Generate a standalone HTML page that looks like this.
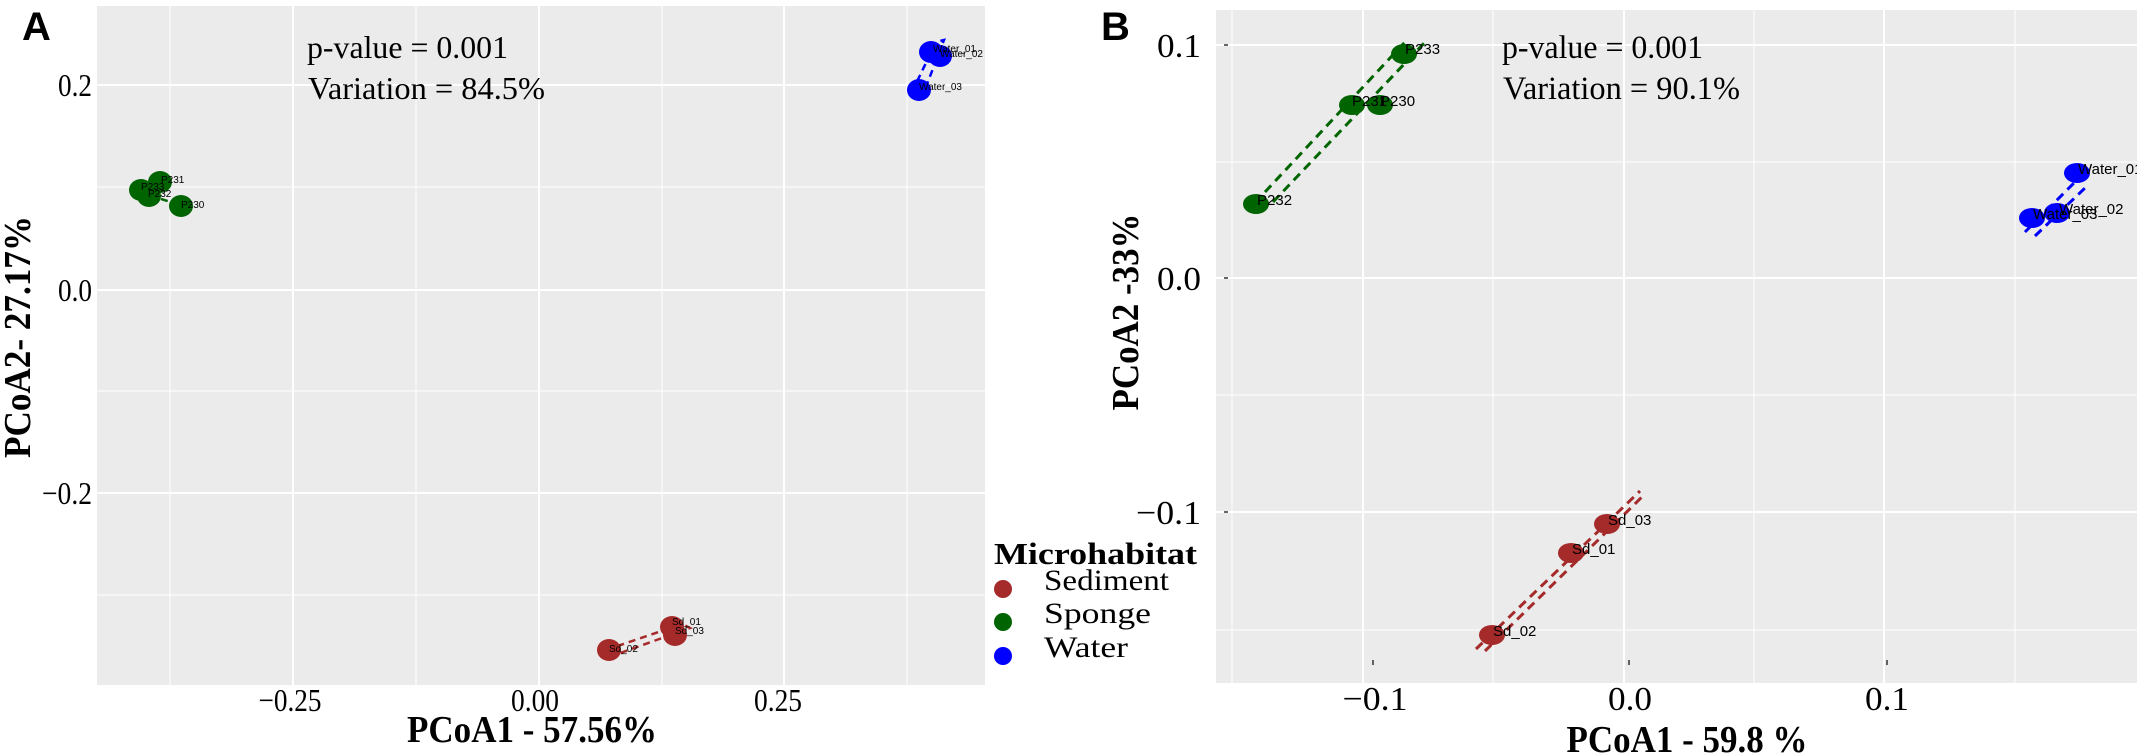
<!DOCTYPE html>
<html><head><meta charset="utf-8"><style>
html,body{margin:0;padding:0;background:#fff;}
svg{display:block;}
text{font-family:"Liberation Serif",serif;}
.s, .s text{font-family:"Liberation Sans",sans-serif;}
</style></head><body>
<svg width="2137" height="754" viewBox="0 0 2137 754" xmlns="http://www.w3.org/2000/svg">
<!-- Panel A -->
<rect x="97" y="6" width="888" height="679" fill="#EBEBEB"/>
<g stroke="#fff" stroke-width="1">
<line x1="170" y1="6" x2="170" y2="685"/><line x1="416" y1="6" x2="416" y2="685"/><line x1="662" y1="6" x2="662" y2="685"/><line x1="907" y1="6" x2="907" y2="685"/>
<line x1="97" y1="187" x2="985" y2="187"/><line x1="97" y1="391" x2="985" y2="391"/><line x1="97" y1="595" x2="985" y2="595"/>
</g>
<g stroke="#fff" stroke-width="2">
<line x1="293" y1="6" x2="293" y2="685"/><line x1="539" y1="6" x2="539" y2="685"/><line x1="784" y1="6" x2="784" y2="685"/>
<line x1="97" y1="85" x2="985" y2="85"/><line x1="97" y1="290" x2="985" y2="290"/><line x1="97" y1="493" x2="985" y2="493"/>
</g>
<g font-size="32" text-anchor="end">
<text x="92" y="96" textLength="34" lengthAdjust="spacingAndGlyphs">0.2</text>
<text x="92" y="301" textLength="34" lengthAdjust="spacingAndGlyphs">0.0</text>
<text x="92" y="504" textLength="50" lengthAdjust="spacingAndGlyphs">−0.2</text>
</g>
<g font-size="32" text-anchor="middle">
<text x="290" y="711" textLength="63" lengthAdjust="spacingAndGlyphs">−0.25</text>
<text x="535" y="711" textLength="48" lengthAdjust="spacingAndGlyphs">0.00</text>
<text x="778" y="711" textLength="48" lengthAdjust="spacingAndGlyphs">0.25</text>
</g>
<text x="532" y="742" font-size="38" font-weight="bold" text-anchor="middle" textLength="250" lengthAdjust="spacingAndGlyphs">PCoA1 - 57.56%</text>
<text transform="translate(30,337) rotate(-90)" font-size="38" font-weight="bold" text-anchor="middle" textLength="242" lengthAdjust="spacingAndGlyphs">PCoA2- 27.17%</text>
<text class="s" x="22" y="40" font-size="40" font-weight="bold">A</text>
<text x="307" y="58" font-size="32" textLength="201" lengthAdjust="spacingAndGlyphs">p-value = 0.001</text>
<text x="308" y="99" font-size="32" textLength="237" lengthAdjust="spacingAndGlyphs">Variation = 84.5%</text>
<g fill="none" stroke-dasharray="7,5" stroke-width="2.5">
<path d="M912 92 L936 42 L944 40 L924 92" stroke="#0000FF"/>
<path d="M606 650 L682 624 L690 628 L612 656" stroke="#A52A2A"/>
<path d="M138 192 L184 206 M150 200 L164 182" stroke="#006400"/>
</g>
<g fill="#0000FF"><ellipse cx="931" cy="52" rx="12" ry="11"/><ellipse cx="940" cy="56" rx="12" ry="11"/><ellipse cx="919" cy="90" rx="12" ry="11"/></g>
<g fill="#006400"><ellipse cx="141" cy="190" rx="12" ry="11"/><ellipse cx="160" cy="182" rx="12" ry="11"/><ellipse cx="149" cy="196" rx="12" ry="11"/><ellipse cx="181" cy="206" rx="12" ry="11"/></g>
<g fill="#A52A2A"><ellipse cx="672" cy="627" rx="12" ry="11"/><ellipse cx="675" cy="635" rx="12" ry="11"/><ellipse cx="609" cy="650" rx="12" ry="11"/></g>
<g class="s" font-size="10" fill="#000">
<text x="933" y="52">Water_01</text><text x="940" y="57">Water_02</text><text x="919" y="90">Water_03</text>
<text x="161" y="183">P231</text><text x="141" y="190">P233</text><text x="148" y="197">P232</text><text x="181" y="208">P230</text>
<text x="672" y="625">Sd_01</text><text x="675" y="634">Sd_03</text><text x="609" y="652">Sd_02</text>
</g>
<text x="994" y="564" font-size="31" font-weight="bold" textLength="203" lengthAdjust="spacingAndGlyphs">Microhabitat</text>
<circle cx="1003" cy="589" r="9" fill="#A52A2A"/><circle cx="1003" cy="622" r="9" fill="#006400"/><circle cx="1003" cy="656" r="9" fill="#0000FF"/>
<g font-size="30">
<text x="1044" y="590" textLength="125" lengthAdjust="spacingAndGlyphs">Sediment</text>
<text x="1044" y="623" textLength="107" lengthAdjust="spacingAndGlyphs">Sponge</text>
<text x="1044" y="657" textLength="84" lengthAdjust="spacingAndGlyphs">Water</text>
</g>
<!-- Panel B -->
<rect x="1216" y="10" width="921" height="673" fill="#EBEBEB"/>
<g stroke="#fff" stroke-width="1">
<line x1="1232" y1="10" x2="1232" y2="683"/><line x1="1493" y1="10" x2="1493" y2="683"/><line x1="1754" y1="10" x2="1754" y2="683"/><line x1="2015" y1="10" x2="2015" y2="683"/>
<line x1="1216" y1="162" x2="2137" y2="162"/><line x1="1216" y1="395" x2="2137" y2="395"/><line x1="1216" y1="630" x2="2137" y2="630"/>
</g>
<g stroke="#fff" stroke-width="2">
<line x1="1363" y1="10" x2="1363" y2="683"/><line x1="1624" y1="10" x2="1624" y2="683"/><line x1="1884" y1="10" x2="1884" y2="683"/>
<line x1="1216" y1="45" x2="2137" y2="45"/><line x1="1216" y1="278" x2="2137" y2="278"/><line x1="1216" y1="512" x2="2137" y2="512"/>
</g>
<g stroke="#333" stroke-width="1.5"><line x1="1373" y1="660" x2="1373" y2="665"/><line x1="1629" y1="660" x2="1629" y2="665"/><line x1="1887" y1="660" x2="1887" y2="665"/>
<line x1="1224" y1="45" x2="1228" y2="45"/><line x1="1224" y1="278" x2="1228" y2="278"/><line x1="1224" y1="512" x2="1228" y2="512"/></g>
<g font-size="34" text-anchor="end">
<text x="1201" y="57" textLength="44" lengthAdjust="spacingAndGlyphs">0.1</text>
<text x="1201" y="290" textLength="44" lengthAdjust="spacingAndGlyphs">0.0</text>
<text x="1201" y="524" textLength="65" lengthAdjust="spacingAndGlyphs">−0.1</text>
</g>
<g font-size="34" text-anchor="middle">
<text x="1375" y="710" textLength="65" lengthAdjust="spacingAndGlyphs">−0.1</text>
<text x="1630" y="710" textLength="44" lengthAdjust="spacingAndGlyphs">0.0</text>
<text x="1887" y="710" textLength="44" lengthAdjust="spacingAndGlyphs">0.1</text>
</g>
<text x="1687" y="752" font-size="38" font-weight="bold" text-anchor="middle" textLength="241" lengthAdjust="spacingAndGlyphs">PCoA1 - 59.8 %</text>
<text transform="translate(1138,312) rotate(-90)" font-size="38" font-weight="bold" text-anchor="middle" textLength="197" lengthAdjust="spacingAndGlyphs">PCoA2 -33%</text>
<text class="s" x="1101" y="40" font-size="40" font-weight="bold">B</text>
<text x="1502" y="58" font-size="33" textLength="201" lengthAdjust="spacingAndGlyphs">p-value = 0.001</text>
<text x="1503" y="99" font-size="33" textLength="237" lengthAdjust="spacingAndGlyphs">Variation = 90.1%</text>
<g fill="none" stroke-dasharray="9,6" stroke-width="3">
<path d="M1265 192 L1405 42 M1273 202 L1428 39" stroke="#006400"/>
<path d="M1476 649 L1640 491 M1485 651 L1645 494" stroke="#A52A2A"/>
<path d="M2025 232 L2080 177 M2035 236 L2085 188" stroke="#0000FF"/>
</g>
<g fill="#006400"><ellipse cx="1404" cy="54" rx="13" ry="10"/><ellipse cx="1352" cy="105" rx="13" ry="10"/><ellipse cx="1380" cy="105" rx="13" ry="10"/><ellipse cx="1256" cy="204" rx="13" ry="10"/></g>
<g fill="#0000FF"><ellipse cx="2077" cy="173" rx="13" ry="10"/><ellipse cx="2057" cy="213" rx="13" ry="10"/><ellipse cx="2032" cy="218" rx="13" ry="10"/></g>
<g fill="#A52A2A"><ellipse cx="1607" cy="524" rx="13" ry="10"/><ellipse cx="1571" cy="553" rx="13" ry="10"/><ellipse cx="1492" cy="635" rx="13" ry="10"/></g>
<g class="s" font-size="15" fill="#000">
<text x="1405" y="54">P233</text><text x="1352" y="106">P231</text><text x="1380" y="106">P230</text><text x="1257" y="205">P232</text>
<text x="2078" y="174">Water_01</text><text x="2059" y="214">Water_02</text><text x="2033" y="219">Water_03</text>
<text x="1608" y="525">Sd_03</text><text x="1572" y="554">Sd_01</text><text x="1493" y="636">Sd_02</text>
</g>
</svg>
</body></html>
